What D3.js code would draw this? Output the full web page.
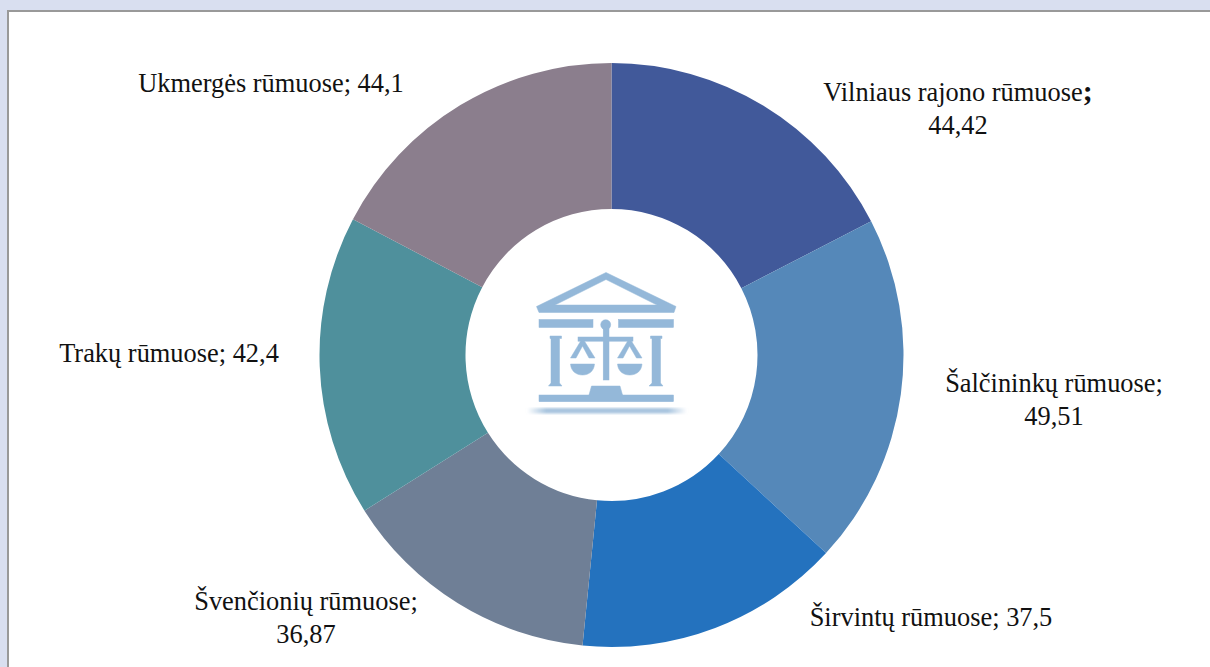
<!DOCTYPE html>
<html lang="lt">
<head>
<meta charset="utf-8">
<title>Rūmai</title>
<script src="https://cdn.jsdelivr.net/npm/d3@7"></script>
<style>
html,body{margin:0;padding:0;background:#d9dff0;overflow:hidden}
svg{display:block}
text{font-family:"Liberation Serif",serif;font-size:26.4px;fill:#111}
</style>
</head>
<body>
<svg id="chart" width="1210" height="667"></svg>
<script>
const categories = ["Vilniaus rajono rūmuose","Šalčininkų rūmuose","Širvintų rūmuose","Švenčionių rūmuose","Trakų rūmuose","Ukmergės rūmuose"];
const values = [44.42,49.51,37.5,36.87,42.4,44.1];
const valueLabels = ["44,42","49,51","37,5","36,87","42,4","44,1"];
const colors = ["#41599a","#5588b9","#2472be","#6f7f96","#4f909c","#8b7e8d"];

// layout only
const cx = 611.5, cy = 355, outerR = 292, innerR = 146;
const labelLayout = [
  {x:958, y:101, wrap:true, boldSemi:true},
  {x:1054, y:392, wrap:true},
  {x:931, y:626, wrap:false},
  {x:306, y:610, wrap:true},
  {x:169, y:362, wrap:false},
  {x:271, y:92, wrap:false}
];
const lineGap = 33;

const svg = d3.select("#chart");
svg.append("rect").attr("x",8).attr("y",11).attr("width",1230).attr("height",680)
  .attr("fill","#fff").attr("stroke","#999").attr("stroke-width",2);

const defs = svg.append("defs");
const grad = defs.append("linearGradient").attr("id","shadowGrad");
[[0,0],[0.12,1],[0.88,1],[1,0]].forEach(([o,a])=>grad.append("stop").attr("offset",o).attr("stop-color","#a9c5df").attr("stop-opacity",a));
defs.append("filter").attr("id","soft").append("feGaussianBlur").attr("stdDeviation",0.6);
defs.append("filter").attr("id","softer").append("feGaussianBlur").attr("stdDeviation",1.1);

const pie = d3.pie().sort(null).value(d=>d);
const arc = d3.arc().innerRadius(innerR).outerRadius(outerR);
const g = svg.append("g").attr("transform",`translate(${cx},${cy})`);
g.selectAll("path").data(pie(values)).join("path")
  .attr("d",arc).attr("fill",(d,i)=>colors[i]);

// centre emblem (courthouse with scales)
const ic = svg.append("g").attr("fill","#94b8d9").attr("stroke","#94b8d9").attr("stroke-width",0.5).attr("filter","url(#soft)");
ic.append("path").attr("fill-rule","evenodd")
  .attr("d","M606 272.5L676 306.5L674 312.5H539L536.5 306.5ZM606 279.5L555 305H657Z");
ic.append("rect").attr("x",539).attr("y",319.5).attr("width",54).attr("height",8);
ic.append("rect").attr("x",618.5).attr("y",319.5).attr("width",55).attr("height",8);
ic.append("circle").attr("cx",605.7).attr("cy",324.7).attr("r",5);
ic.append("rect").attr("x",603.2).attr("y",325).attr("width",5.8).attr("height",55);
ic.append("path").attr("d","M550 336H561.5V338.5H559.5L559.5 383L562 386H548.5L551 383L551 338.5H550Z");
ic.append("path").attr("d","M650.5 336H662V338.5H660.5L660.5 383L663 386H649L652 383L652 338.5H650.5Z");
ic.append("rect").attr("x",578).attr("y",337).attr("width",55).attr("height",4.2);
ic.append("path").attr("fill-rule","evenodd").attr("d","M582.5 338L595 358H589L582.5 346L576 358H570.5Z");
ic.append("path").attr("fill-rule","evenodd").attr("d","M629.5 338L642 358H636.5L629.5 346L623 358H617.5Z");
ic.append("path").attr("d","M570.5 364H594.5C594 371 589 375 582.5 375C576 375 571 371 570.5 364Z");
ic.append("path").attr("d","M617.5 364H642C641.5 371 636.5 375 629.7 375C623 375 618 371 617.5 364Z");
ic.append("path").attr("d","M591.5 386H620L622.5 395H589Z");
ic.append("rect").attr("x",539).attr("y",395).attr("width",134.5).attr("height",6.7);
svg.append("rect").attr("x",527).attr("y",408).attr("width",160).attr("height",5.5).attr("fill","url(#shadowGrad)").attr("filter","url(#softer)");

// labels
const labels = svg.append("g").attr("text-anchor","middle");
categories.forEach((name,i)=>{
  const p = labelLayout[i];
  if(p.wrap){
    const t = labels.append("text").attr("x",p.x).attr("y",p.y).text(name);
    const semi = t.append("tspan").text(";");
    if(p.boldSemi) semi.attr("font-weight","bold").attr("font-size","30px");
    labels.append("text").attr("x",p.x).attr("y",p.y+lineGap).text(valueLabels[i]);
  } else {
    labels.append("text").attr("x",p.x).attr("y",p.y).text(name+"; "+valueLabels[i]);
  }
});
</script>
</body>
</html>
